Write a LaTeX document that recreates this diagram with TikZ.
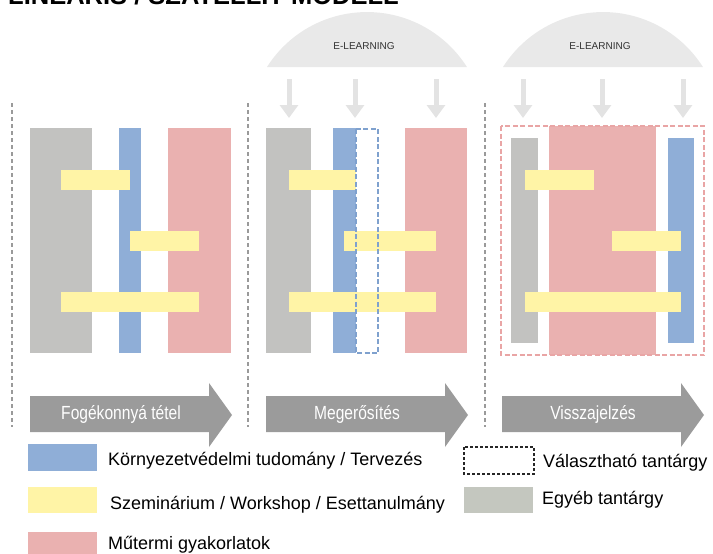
\documentclass[tikz,border=0pt]{standalone}
\usepackage{fontspec}
\setmainfont{Liberation Sans}
\newfontfamily\narrowsf[FakeStretch=0.82]{Liberation Sans}
\usetikzlibrary{arrows.meta}
\definecolor{graybar}{HTML}{C2C2C0}
\definecolor{bluebar}{HTML}{8FAED7}
\definecolor{pinkbar}{HTML}{EAB1B0}
\definecolor{yelbar}{HTML}{FFF4A6}
\definecolor{leggray}{HTML}{C4C7BF}
\definecolor{domegray}{HTML}{E9E9E9}
\definecolor{arrlight}{HTML}{E3E3E3}
\definecolor{phasegray}{HTML}{9B9B9B}
\definecolor{sepgray}{HTML}{9A9A9A}
\definecolor{bluedash}{HTML}{7FA1CE}
\definecolor{pinkdash}{HTML}{E9A5A5}

\begin{document}
\begin{tikzpicture}[x=1pt,y=-1pt,
  sep/.style={draw=sepgray,line width=1.3pt,dash pattern=on 4pt off 3pt},
  optbox/.style={line width=1.4pt,dash pattern=on 5pt off 2.5pt},
  downarr/.style={draw=arrlight,line width=5pt,-{Triangle[width=18pt,length=13pt]}},
  phase/.style={font=\narrowsf\fontsize{19}{19}\selectfont,text=white},
  legtext/.style={anchor=base west,inner sep=0,font=\fontsize{18}{18}\selectfont},
  eltext/.style={font=\fontsize{10}{10}\selectfont,text=black!80}]
\useasboundingbox (0,0) rectangle (713,554);
% title, cut by the top edge
\node[anchor=base west,inner sep=0,font=\fontsize{25.5}{25.5}\bfseries\selectfont] (title) at (8,5) {LINEÁRIS / SZATELLIT MODELL};
% e-learning domes
\foreach \cx [count=\i] in {367,603}{
  \fill[domegray] (\cx-100,67) arc[start angle=-147.6,end angle=-32.4,radius=118.4] -- cycle;
  \node[eltext] (el\i) at (\cx-3,46) {E-LEARNING};
}
\foreach \x [count=\i] in {289,355,436,523,602,683}{
  \coordinate (s\i) at (\x,79);
  \coordinate (t\i) at (\x,118);
  \draw[downarr] (s\i) -- (t\i);
}
% separators
\foreach \x in {12,248,485}
  \draw[sep] (\x,103) -- (\x,427);
% column 1
\fill[graybar] (30,128) rectangle (92,353);
\fill[bluebar] (119,128) rectangle (141,353);
\fill[pinkbar] (168,128) rectangle (231,353);
\foreach \a/\b/\y in {61/130/170,130/199/231,61/199/292}
  \fill[yelbar] (\a,\y) rectangle (\b,\y+20);
% column 2
\fill[graybar] (266,128) rectangle (311,353);
\fill[bluebar] (333,128) rectangle (356,353);
\fill[pinkbar] (405,128) rectangle (467,353);
\foreach \a/\b/\y in {289/356/170,344/436/231,289/436/292}
  \fill[yelbar] (\a,\y) rectangle (\b,\y+20);
\draw[optbox,draw=bluedash] (356,129) rectangle (378,353);
% column 3
\fill[pinkbar] (549,126) rectangle (656,355);
\fill[graybar] (511,138) rectangle (538,343);
\fill[bluebar] (668,138) rectangle (694,343);
\foreach \a/\b/\y in {525/594/170,612/681/231,525/681/292}
  \fill[yelbar] (\a,\y) rectangle (\b,\y+20);
\draw[optbox,draw=pinkdash] (501,126) rectangle (704,355);
% phases
\foreach \x/\t [count=\i] in {30/Fogékonnyá tétel,266/Megerősítés,502/Visszajelzés}{
  \fill[phasegray] (\x,396) -- (\x+179,396) -- (\x+179,383) -- (\x+202,415)
    -- (\x+179,447) -- (\x+179,432) -- (\x,432) -- cycle;
  \node[phase] (ph\i) at (\x+91,414) {\t};
}
% legend
\fill[bluebar] (28,444) rectangle (97,471);
\node[legtext] (l1) at (108,465) {Környezetvédelmi tudomány / Tervezés};
\fill[yelbar] (28,487) rectangle (97,513);
\node[legtext] (l2) at (110,509) {Szeminárium / Workshop / Esettanulmány};
\fill[pinkbar] (28,532) rectangle (97,560);
\node[legtext] (l3) at (108,549) {Műtermi gyakorlatok};
\draw[black!85,line width=1.2pt,dash pattern=on 3pt off 2pt] (464,447) rectangle (534,474);
\node[legtext] (l4) at (543,467) {Választható tantárgy};
\fill[leggray] (464,487) rectangle (533,513);
\node[legtext] (l5) at (542,504) {Egyéb tantárgy};
\end{tikzpicture}
\end{document}
